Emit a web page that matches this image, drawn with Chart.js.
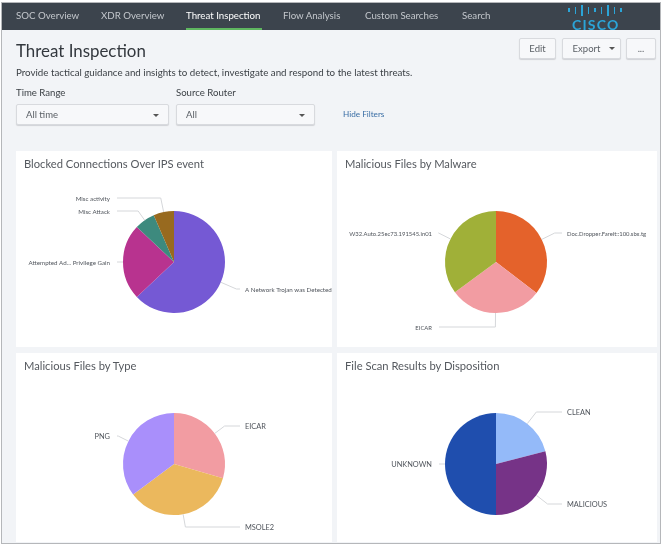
<!DOCTYPE html>
<html lang="en">
<head>
<meta charset="UTF-8">
<title>Threat Inspection</title>
<script src="https://cdn.jsdelivr.net/npm/chart.js"></script>
<style>
    html,body{margin:0;padding:0;background:#fff;}
    body{width:666px;height:550px;overflow:hidden;font-family:Lato,"Open Sans",sans-serif;}
    #page{position:absolute;left:2px;top:3px;width:658px;height:540px;background:#f2f4f7;box-shadow:0 0 0 1px #b5b7ba;overflow:hidden;filter:blur(.55px);}
    .abs{position:absolute;white-space:nowrap;}
    #nav{position:absolute;left:0;top:0;width:100%;height:27px;background:#3c444d;}
    .tab{position:absolute;top:6px;font-size:9.7px;color:#c3c7cc;line-height:13px;}
    .tab.on{color:#fff;}
    #underline{position:absolute;left:184px;top:25px;width:76px;height:2px;background:#5fb760;}
    #title{left:14px;top:37px;font-size:16.9px;color:#33383e;line-height:22px;}
    #sub{left:14px;top:63px;font-size:9.75px;color:#3c4146;line-height:13px;}
    .lbl{top:83px;font-size:9.6px;color:#3c4146;line-height:13px;}
    .box{position:absolute;background:#f7f8fa;border:1px solid #d8dade;border-radius:2px;box-shadow:0 1px 1px #d0d2d6;box-sizing:border-box;font-size:9.5px;color:#5b6066;}
    .sel{top:101px;height:21px;line-height:19px;padding-left:9px;}
    .btn{top:35px;height:21px;line-height:19px;text-align:center;}
    .caret{position:absolute;width:0;height:0;border-left:3px solid transparent;border-right:3px solid transparent;border-top:3px solid #555;}
    #hide{left:341px;top:105px;font-size:8.2px;color:#3a6ea5;line-height:13px;}
    .panel{position:absolute;background:#fff;}
    .panel h2{position:absolute;left:8px;top:5px;margin:0;font-weight:400;font-size:11.2px;line-height:15px;color:#55595f;white-space:nowrap;}
    .panel canvas{position:absolute;left:0;top:0;}
    .bar{position:absolute;width:1.6px;background:#2ba5d8;}
    #cisco{left:570px;top:15px;font-size:14px;font-weight:700;letter-spacing:1.2px;color:#2ba5d8;line-height:14px;}
</style>
</head>
<body>
<div id="page">
    <div id="nav">
        <span class="tab" style="left:14px">SOC Overview</span>
        <span class="tab" style="left:99px">XDR Overview</span>
        <span class="tab on" style="left:184px">Threat Inspection</span>
        <span class="tab" style="left:281px">Flow Analysis</span>
        <span class="tab" style="left:363px">Custom Searches</span>
        <span class="tab" style="left:460px">Search</span>
        <div id="underline"></div>
        <div id="logo"></div>
    </div>
    <div class="abs" id="cisco">CISCO</div>
    <div class="abs" id="title">Threat Inspection</div>
    <div class="abs" id="sub">Provide tactical guidance and insights to detect, investigate and respond to the latest threats.</div>
    <div class="abs lbl" style="left:14px">Time Range</div>
    <div class="abs lbl" style="left:174px">Source Router</div>
    <div class="box sel" style="left:14px;width:153px">All time<i class="caret" style="left:136px;top:9px"></i></div>
    <div class="box sel" style="left:174px;width:139px">All<i class="caret" style="left:122px;top:9px"></i></div>
    <div class="abs" id="hide">Hide Filters</div>
    <div class="box btn" style="left:517px;width:37px">Edit</div>
    <div class="box btn" style="left:560px;width:59px;padding-right:10px">Export<i class="caret" style="left:46px;top:8px"></i></div>
    <div class="box btn" style="left:624px;width:30px">...</div>

    <div class="panel" style="left:14px;top:148px;width:316px;height:196px"><h2>Blocked Connections Over IPS event</h2><canvas id="c1" width="316" height="196"></canvas></div>
    <div class="panel" style="left:335px;top:148px;width:320px;height:196px"><h2>Malicious Files by Malware</h2><canvas id="c2" width="320" height="196"></canvas></div>
    <div class="panel" style="left:14px;top:350px;width:316px;height:189px"><h2>Malicious Files by Type</h2><canvas id="c3" width="316" height="189"></canvas></div>
    <div class="panel" style="left:335px;top:350px;width:320px;height:189px"><h2>File Scan Results by Disposition</h2><canvas id="c4" width="320" height="189"></canvas></div>
</div>
<script>
    // 값은 그림에서 읽은 추정치
    const ipsLabels = ['A Network Trojan was Detected', 'Attempted Ad... Privilege Gain', 'Misc Attack', 'Misc activity'];
    const ipsValues = [63, 24, 6.5, 6.5];
    const ipsColors = ['#7559d4', '#b8338f', '#3d8a7e', '#986a1f'];

    const malwareLabels = ['Doc.Dropper.Fareit::100.sbx.tg', 'EICAR', 'W32.Auto.25ec73.191545.in01'];
    const malwareValues = [35.4, 29.5, 35.1];
    const malwareColors = ['#e4622b', '#f29ca2', '#a0b038'];

    const typeLabels = ['EICAR', 'MSOLE2', 'PNG'];
    const typeValues = [29.5, 35.3, 35.2];
    const typeColors = ['#f29ca2', '#ebb85d', '#a98ffb'];

    const dispLabels = ['CLEAN', 'MALICIOUS', 'UNKNOWN'];
    const dispValues = [21, 29, 50];
    const dispColors = ['#94baf9', '#763387', '#1f4eae'];

    // 라벨 높이 (원 중심 기준)
    const ipsRows = [27, 0, -51, -64];
    const malwareRows = [-29, 65, -29];
    const typeRows = [-38, 63, -28];
    const dispRows = [-52, 40, 0];

    const leaders = {
        id: 'leaders',
        afterDatasetsDraw(chart, args, opts) {
            const ctx = chart.ctx;
            const arcs = chart.getDatasetMeta(0).data;
            ctx.save();
            ctx.font = opts.size + 'px Lato';
            ctx.textBaseline = 'middle';
            arcs.forEach(function (arc, i) {
                const mid = (arc.startAngle + arc.endAngle) / 2;
                const dx = Math.cos(mid), dy = Math.sin(mid);
                const y = arc.y + opts.rows[i];
                const r = arc.outerRadius;
                const left = dx < -0.001;
                const endX = arc.x + (left ? -57 : 66);
                // 중심에서 나가는 선이 라벨 높이와 만나는 지점에서 꺾음
                let kx = endX;
                if (Math.abs(dy) > 0.05) kx = arc.x + dx * (opts.rows[i] / dy);
                ctx.strokeStyle = '#d5d7da';
                ctx.lineWidth = 1;
                ctx.beginPath();
                ctx.moveTo(arc.x + dx * r, arc.y + dy * r);
                ctx.lineTo(kx, y);
                ctx.lineTo(endX, y);
                ctx.stroke();
                ctx.fillStyle = '#50555c';
                ctx.textAlign = left ? 'right' : 'left';
                ctx.fillText(chart.data.labels[i], endX + (left ? -7 : 5), y + 0.7);
            });
            ctx.restore();
        }
    };

    function makePie(id, labels, values, colors, rows, size, cx, cy) {
        const cv = document.getElementById(id);
        new Chart(cv, {
            type: 'pie',
            data: { labels: labels, datasets: [{ data: values, backgroundColor: colors, borderWidth: 0 }] },
            options: {
                responsive: false,
                animation: false,
                layout: { padding: { left: cx - 51, right: cv.width - cx - 51, top: cy - 51, bottom: cv.height - cy - 51 } },
                plugins: { legend: { display: false }, tooltip: { enabled: false }, leaders: { rows: rows, size: size } }
            },
            plugins: [leaders]
        });
    }

    makePie('c1', ipsLabels, ipsValues, ipsColors, ipsRows, 6.2, 158, 111);
    makePie('c2', malwareLabels, malwareValues, malwareColors, malwareRows, 5.9, 159, 111);
    makePie('c3', typeLabels, typeValues, typeColors, typeRows, 7.4, 158, 111);
    makePie('c4', dispLabels, dispValues, dispColors, dispRows, 7.4, 159, 111);

    // 로고 막대
    const logoHeights = [4, 7, 11, 7, 4, 7, 11, 7, 4];
    logoHeights.forEach(function (h, i) {
        const b = document.createElement('div');
        b.className = 'bar';
        b.style.left = (566 + i * 6.5) + 'px';
        b.style.top = (7 - h / 2) + 'px';
        b.style.height = h + 'px';
        document.getElementById('logo').appendChild(b);
    });
</script>
</body>
</html>
